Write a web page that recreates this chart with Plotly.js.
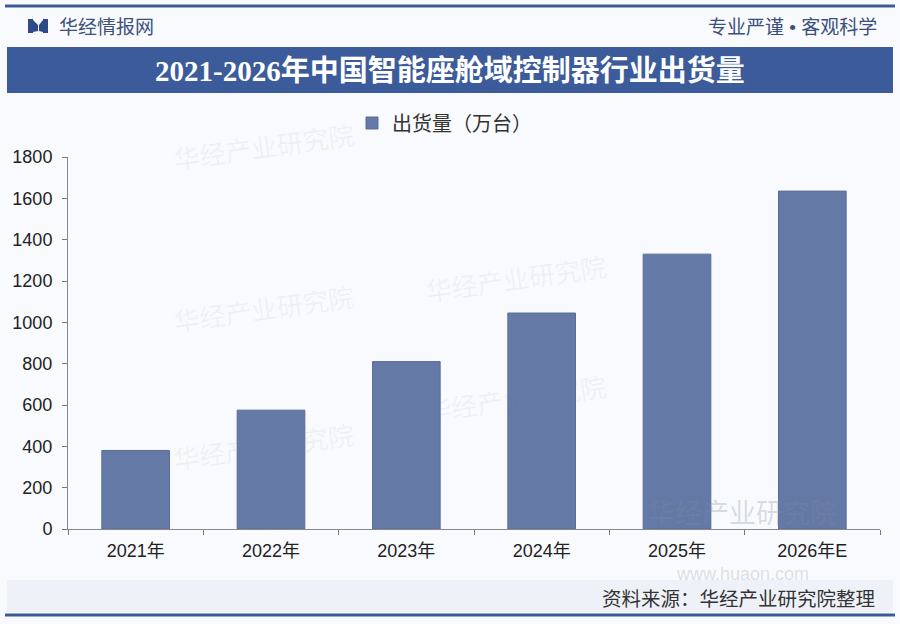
<!DOCTYPE html>
<html><head><meta charset="utf-8">
<script src="https://cdn.plot.ly/plotly-3.0.1.min.js"></script>
<style>html,body{margin:0;padding:0;background:#f7f9fc;}#chart{width:900px;height:624px;}</style>
</head><body><div id="chart"></div>
<script>
const categories = ["2021年","2022年","2023年","2024年","2025年","2026年E"];
const shipments = [380, 575, 810, 1045, 1330, 1635];
const seriesName = "出货量（万台）";
const yTicks = [0,200,400,600,800,1000,1200,1400,1600,1800];

const cjk = '"Liberation Sans", "Noto Sans CJK SC", sans-serif';
// pixel -> paper helpers (plot area: x 68..880, y 157..529)
const PX = x => (x - 68) / 812;
const PY = y => (529 - y) / 372;

const trace = {
  type: 'bar', x: categories, y: shipments, name: seriesName,
  marker: {color: '#6479a6', line: {color: '#5a6e9b', width: 1}},
  hoverinfo: 'x+y'
};

const wm = [];
function addWm(x, y, t, size, ang, alpha){
  wm.push({xref:'paper', yref:'paper', x:PX(x), y:PY(y), text:t, showarrow:false,
    font:{family:cjk, size:size, color:'rgba(120,140,180,' + alpha + ')'}, textangle:ang});
}
addWm(170, 118, '华经产业研究院', 26, -8, 0.09);
addWm(170, 310, '华经产业研究院', 26, -8, 0.09);
addWm(170, 478, '华经产业研究院', 26, -8, 0.09);
addWm(610, 250, '华经产业研究院', 26, -8, 0.09);
addWm(610, 430, '华经产业研究院', 26, -8, 0.09);

function poly(pts){
  return 'M ' + pts.map(p => PX(p[0]) + ',' + PY(p[1])).join(' L ') + ' Z';
}

const layout = {
  width: 900, height: 624,
  paper_bgcolor: '#f8fafd', plot_bgcolor: 'rgba(0,0,0,0)',
  margin: {l: 68, r: 20, t: 157, b: 95, autoexpand: false},
  bargap: 0.5,
  showlegend: true,
  legend: {orientation: 'h', x: PX(352), xanchor: 'left', y: PY(123), yanchor: 'middle',
    font: {family: cjk, size: 20, color: '#333'}, bgcolor: 'rgba(0,0,0,0)', itemwidth: 30},
  xaxis: {
    type: 'category', tickson: 'boundaries', ticks: 'outside', ticklen: 5, tickcolor: '#777',
    showline: true, linecolor: '#888', linewidth: 1, showgrid: false, ticklabelstandoff: 5,
    tickfont: {family: cjk, size: 18, color: '#222'}, fixedrange: true
  },
  yaxis: {
    range: [0, 1800], tickvals: yTicks, ticks: 'outside', ticklen: 5, tickcolor: '#777',
    showline: true, linecolor: '#888', linewidth: 1, showgrid: false, zeroline: false, ticklabelstandoff: 6,
    tickfont: {family: '"Liberation Sans", Arial, sans-serif', size: 18, color: '#222'}, fixedrange: true
  },
  shapes: [
    {type:'line', xref:'paper', yref:'paper', x0:PX(5), x1:PX(895), y0:PY(6), y1:PY(6), line:{color:'#3b5a97', width:3}},
    {type:'rect', xref:'paper', yref:'paper', x0:PX(7), x1:PX(893), y0:PY(93), y1:PY(47), fillcolor:'#3c5b9a', line:{width:0}},
    {type:'rect', xref:'paper', yref:'paper', x0:PX(7), x1:PX(893), y0:PY(612), y1:PY(580), fillcolor:'#eef2f8', line:{width:0}, layer:'below'},
    {type:'line', xref:'paper', yref:'paper', x0:PX(5), x1:PX(895), y0:PY(615), y1:PY(615), line:{color:'#3b5a97', width:3}},
    {type:'path', xref:'paper', yref:'paper', path: poly([[28,19],[33,19],[33,33],[28,33]]), fillcolor:'#2f4a86', line:{width:0}},
    {type:'path', xref:'paper', yref:'paper', path: poly([[33,20],[38,25],[38,31],[33,32]]), fillcolor:'#2f4a86', line:{width:0}},
    {type:'path', xref:'paper', yref:'paper', path: poly([[43,19],[48,19],[48,33],[43,33]]), fillcolor:'#2f4a86', line:{width:0}},
    {type:'path', xref:'paper', yref:'paper', path: poly([[43,20],[39,25],[39,31],[43,32]]), fillcolor:'#2f4a86', line:{width:0}}
  ],
  annotations: wm.concat([
    {xref:'paper', yref:'paper', x:PX(450), y:PY(71), text:'<b>2021-2026年中国智能座舱域控制器行业出货量</b>', showarrow:false,
      font:{family:'"Liberation Serif", "Noto Sans CJK SC", serif', size:29, color:'#ffffff'}, xanchor:'center', yanchor:'middle'},
    {xref:'paper', yref:'paper', x:PX(57), y:PY(27), text:'华经情报网', showarrow:false,
      font:{family:cjk, size:19, color:'#3b4f7c'}, xanchor:'left', yanchor:'middle'},
    {xref:'paper', yref:'paper', x:PX(879), y:PY(27), text:'专业严谨 • 客观科学', showarrow:false,
      font:{family:cjk, size:19, color:'#3b4f7c'}, xanchor:'right', yanchor:'middle'},
    {xref:'paper', yref:'paper', x:PX(877), y:PY(599), text:'资料来源：华经产业研究院整理', showarrow:false,
      font:{family:cjk, size:19.5, color:'#333'}, xanchor:'right', yanchor:'middle'},
    {xref:'paper', yref:'paper', x:PX(742), y:PY(514), text:'华经产业研究院', showarrow:false,
      font:{family:cjk, size:27, color:'rgba(130,140,160,0.28)'}, xanchor:'center', yanchor:'middle'},
    {xref:'paper', yref:'paper', x:PX(742), y:PY(574), text:'www.huaon.com', showarrow:false,
      font:{family:cjk, size:18, color:'rgba(130,140,160,0.25)'}, xanchor:'center', yanchor:'middle'}
  ])
};

Plotly.newPlot('chart', [trace], layout, {displayModeBar: false, staticPlot: true});
</script></body></html>
